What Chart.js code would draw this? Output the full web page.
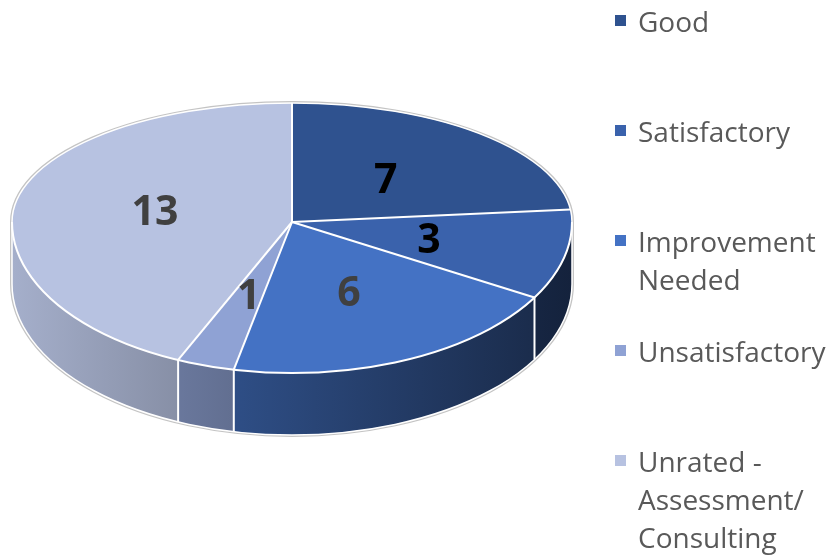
<!DOCTYPE html>
<html>
<head>
<meta charset="utf-8">
<title>Rating Distribution</title>
<script src="https://cdn.jsdelivr.net/npm/chart.js@4.4.1/dist/chart.umd.min.js"></script>
<style>
    html, body { margin: 0; padding: 0; background: #fff; overflow: hidden; }
    #wrap { position: relative; width: 828px; height: 555px; }
    #chart { position: absolute; left: 0; top: 0; }
    #legend {
        position: absolute; left: 0; top: 0;
        font-family: 'Open Sans', sans-serif; font-size: 28px; line-height: 38px; color: #595959;
    }
    .item { position: absolute; left: 638px; white-space: nowrap; }
    .swatch { position: absolute; left: -23px; top: 13px; width: 11px; height: 11px; }
</style>
</head>
<body>
<div id="wrap">
    <canvas id="chart" width="828" height="555"></canvas>
    <div id="legend"></div>
</div>
<script>
const categories = [
    ['Good'],
    ['Satisfactory'],
    ['Improvement', 'Needed'],
    ['Unsatisfactory'],
    ['Unrated -', 'Assessment/', 'Consulting']
];
const counts = [7, 3, 6, 1, 13];

const sliceColors = ['#2F528F', '#3A62AC', '#4472C4', '#8FA2D4', '#B7C2E1'];
const labelColors = ['#000000', '#000000', '#404040', '#404040', '#404040'];

// tilted disc: centre, horizontal radius, back/front vertical radii, wall depth
const disc = { cx: 292, cy: 222, rx: 280, ryBack: 119, ryFront: 151, depth: 62 };

function rimPoint(t, r) {
    const ry = Math.sin(t) < 0 ? disc.ryBack : disc.ryFront;
    return {
        x: disc.cx + disc.rx * r * Math.cos(t),
        y: disc.cy + ry * r * Math.sin(t)
    };
}

function shade(hex, f) {
    const n = parseInt(hex.slice(1), 16);
    const r = Math.round(((n >> 16) & 255) * f);
    const g = Math.round(((n >> 8) & 255) * f);
    const b = Math.round((n & 255) * f);
    return `rgb(${r},${g},${b})`;
}

/**
 * Draws the pie as a thick tilted disc: outline, side walls,
 * then the library's own arcs squashed into the top face.
 */
const tiltedPie = {
    id: 'tiltedPie',
    beforeDatasetsDraw(chart) {
        const ctx = chart.ctx;
        const arcs = chart.getDatasetMeta(0).data;
        const d = disc;

        // grey halo round the outside edge
        ctx.save();
        ctx.beginPath();
        ctx.ellipse(d.cx, d.cy, d.rx, d.ryBack, 0, Math.PI, 2 * Math.PI);
        ctx.lineTo(d.cx + d.rx, d.cy + d.depth);
        ctx.ellipse(d.cx, d.cy + d.depth, d.rx, d.ryFront, 0, 0, Math.PI);
        ctx.closePath();
        ctx.strokeStyle = '#c4c4c4';
        ctx.lineWidth = 4;
        ctx.stroke();
        ctx.restore();

        // side walls, front half only
        arcs.forEach(arc => {
            const s = Math.max(arc.startAngle, 0);
            const e = Math.min(arc.endAngle, Math.PI);
            if (s >= e) return;
            const base = arc.options.backgroundColor;
            const grad = ctx.createLinearGradient(d.cx - d.rx, 0, d.cx + d.rx, 0);
            grad.addColorStop(0, shade(base, 0.9));
            grad.addColorStop(1, shade(base, 0.35));
            ctx.beginPath();
            ctx.ellipse(d.cx, d.cy, d.rx, d.ryFront, 0, s, e);
            ctx.ellipse(d.cx, d.cy + d.depth, d.rx, d.ryFront, 0, e, s, true);
            ctx.closePath();
            ctx.fillStyle = grad;
            ctx.fill();
        });

        // top face: back half and front half use different squash
        const R = arcs[0].outerRadius;
        const ox = arcs[0].x;
        const oy = arcs[0].y;
        [[0, d.cy, d.ryBack], [d.cy, chart.height - d.cy, d.ryFront]].forEach(([top, h, ry]) => {
            ctx.save();
            ctx.beginPath();
            ctx.rect(0, top, chart.width, h);
            ctx.clip();
            ctx.translate(d.cx, d.cy);
            ctx.scale(d.rx / R, ry / R);
            ctx.translate(-ox, -oy);
            arcs.forEach(a => a.draw(ctx));
            ctx.restore();
        });

        // white edges
        ctx.save();
        ctx.strokeStyle = '#ffffff';
        ctx.lineJoin = 'round';
        ctx.lineWidth = 1.5;
        ctx.beginPath();
        ctx.ellipse(d.cx, d.cy, d.rx, d.ryBack, 0, Math.PI, 2 * Math.PI);
        ctx.lineTo(d.cx + d.rx, d.cy + d.depth);
        ctx.ellipse(d.cx, d.cy + d.depth, d.rx, d.ryFront, 0, 0, Math.PI);
        ctx.closePath();
        ctx.stroke();

        ctx.lineWidth = 2;
        ctx.beginPath();
        ctx.ellipse(d.cx, d.cy, d.rx, d.ryFront, 0, 0, Math.PI);
        ctx.stroke();

        arcs.forEach(a => {
            const t = a.startAngle;
            const p = rimPoint(t, 1);
            ctx.beginPath();
            ctx.moveTo(d.cx, d.cy);
            ctx.lineTo(p.x, p.y);
            ctx.stroke();
            if (Math.sin(t) > 0.01) {
                ctx.beginPath();
                ctx.moveTo(p.x, p.y);
                ctx.lineTo(p.x, p.y + d.depth);
                ctx.stroke();
            }
        });
        ctx.restore();

        return false;
    },
    afterDraw(chart) {
        const ctx = chart.ctx;
        const arcs = chart.getDatasetMeta(0).data;
        const values = chart.data.datasets[0].data;
        ctx.save();
        ctx.font = "bold 41px 'Open Sans', sans-serif";
        ctx.textAlign = 'center';
        ctx.textBaseline = 'alphabetic';
        arcs.forEach((a, i) => {
            const mid = (a.startAngle + a.endAngle) / 2;
            const p = rimPoint(mid, 0.5);
            ctx.fillStyle = labelColors[i];
            ctx.fillText(String(values[i]), p.x, p.y + 15);
        });
        ctx.restore();
    }
};

new Chart(document.getElementById('chart'), {
    type: 'pie',
    data: {
        labels: categories.map(c => c.join(' ')),
        datasets: [{
            data: counts,
            backgroundColor: sliceColors,
            borderWidth: 0
        }]
    },
    options: {
        responsive: false,
        animation: false,
        events: [],
        plugins: {
            legend: { display: false },
            tooltip: { enabled: false }
        }
    },
    plugins: [tiltedPie]
});

// legend on the right
const legend = document.getElementById('legend');
categories.forEach((lines, i) => {
    const item = document.createElement('div');
    item.className = 'item';
    item.style.top = (2 + i * 110) + 'px';
    const sw = document.createElement('span');
    sw.className = 'swatch';
    sw.style.background = sliceColors[i];
    item.appendChild(sw);
    lines.forEach((line, j) => {
        if (j) item.appendChild(document.createElement('br'));
        item.appendChild(document.createTextNode(line));
    });
    legend.appendChild(item);
});
</script>
</body>
</html>
